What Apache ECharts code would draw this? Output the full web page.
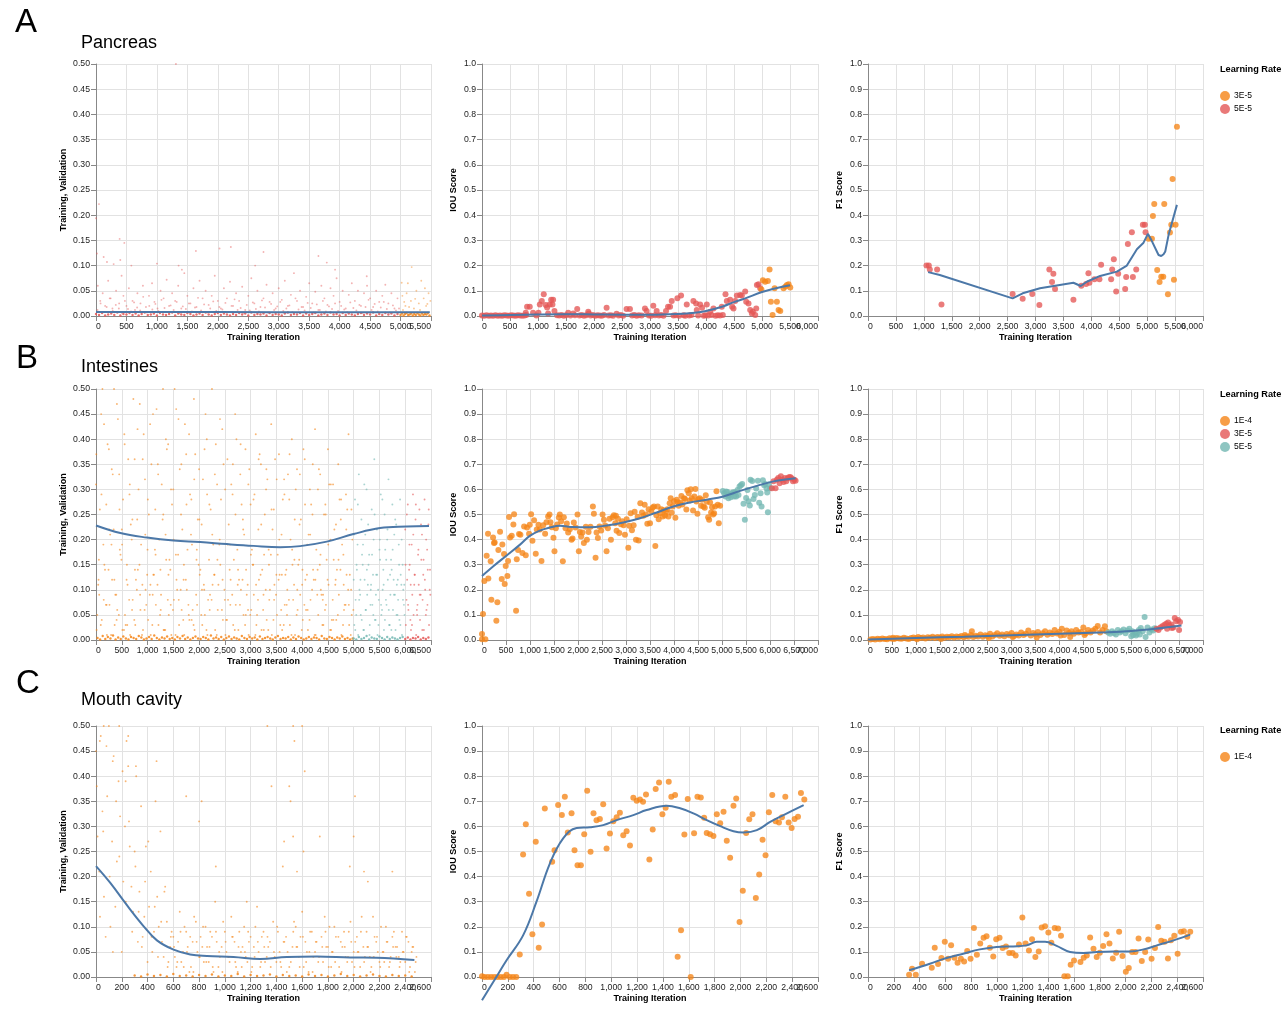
<!DOCTYPE html>
<html><head><meta charset="utf-8">
<script src="https://cdn.jsdelivr.net/npm/echarts@6/dist/echarts.min.js"></script>
<style>html,body{margin:0;padding:0;background:#fff}#c{width:1285px;height:1009px}</style>
</head><body><div id="c"></div>
<script>
// ---------------- axis / tick definitions (per panel, row-major) ----------------
const panelXMax   = [5500, 6000, 6000, 6500, 7000, 7000, 2600, 2600, 2600];
const panelXStep  = [500, 500, 500, 500, 500, 500, 200, 200, 200];
const panelYMax   = [0.5, 1, 1, 0.5, 1, 1, 0.5, 1, 1];
const panelYStep  = [0.05, 0.1, 0.1, 0.05, 0.1, 0.1, 0.05, 0.1, 0.1];
const panelYName  = ['Training, Validation', 'IOU Score', 'F1 Score', 'Training, Validation', 'IOU Score', 'F1 Score', 'Training, Validation', 'IOU Score', 'F1 Score'];
const xAxisName   = 'Training Iteration';
const rowLetters  = ['A', 'B', 'C'];
const rowTitles   = ['Pancreas', 'Intestines', 'Mouth cavity'];
const legendRates = [['3E-5', '5E-5'], ['1E-4', '3E-5', '5E-5'], ['1E-4']];

// ---------------- A: Pancreas ----------------
// loss, 5E-5: near-zero samples every 50 iterations from 0
const pancLossBand5e5 = [0.004,0.002,0.006,0.001,0.003,0.005,0.002,0.007,0.001,0.004,
 0.003,0.006,0.002,0.005,0.001,0.004,0.007,0.002,0.003,0.005,
 0.001,0.006,0.003,0.002,0.004,0.007,0.001,0.005,0.003,0.002,
 0.006,0.004,0.001,0.003,0.005,0.002,0.007,0.003,0.001,0.004,
 0.006,0.002,0.005,0.003,0.001,0.004,0.002,0.006,0.003,0.005,
 0.001,0.007,0.002,0.004,0.003,0.005,0.001,0.006,0.002,0.004,
 0.003,0.001,0.005,0.007,0.002,0.004,0.003,0.006,0.001,0.005,
 0.002,0.004,0.006,0.001,0.003,0.005,0.002,0.007,0.003,0.004,
 0.001,0.006,0.002,0.005,0.003,0.001,0.004,0.006,0.002,0.005,
 0.003,0.007,0.001,0.004,0.002,0.006,0.003,0.005,0.001,0.004];
// loss, 5E-5: low samples every 50 iterations from 25
const pancLossLow5e5 = [0.012,0.025,0.008,0.018,0.035,0.01,0.022,0.015,0.006,0.03,
 0.014,0.009,0.027,0.017,0.011,0.038,0.007,0.02,0.013,0.024,
 0.01,0.032,0.016,0.008,0.021,0.012,0.028,0.006,0.019,0.014,
 0.025,0.009,0.017,0.036,0.011,0.023,0.007,0.015,0.029,0.01,
 0.018,0.013,0.026,0.008,0.02,0.033,0.012,0.016,0.006,0.022,
 0.011,0.027,0.014,0.009,0.031,0.017,0.007,0.024,0.012,0.019,
 0.028,0.01,0.015,0.021,0.008,0.035,0.013,0.018,0.011,0.026,
 0.016,0.007,0.023,0.012,0.03,0.009,0.019,0.014,0.025,0.01,
 0.02,0.013,0.008,0.027,0.016,0.011,0.022,0.006,0.018,0.032,
 0.012,0.024,0.009,0.017,0.028,0.014,0.007,0.021,0.011,0.015];
const pancLossScatter5e5 = [[0,0.194],[16,0.124],[49,0.222],[126,0.117],[180,0.107],[290,0.103],[399,0.111],[388,0.153],[465,0.145],[580,0.1],[1000,0.104],[1356,0.1],[1410,0.092],[1312,0.5],[1640,0.129],[2028,0.134],[2214,0.137],[2613,0.1],[2750,0.127],[3652,0.119],[3789,0.106],[3925,0.092],[4445,0.079],
 [30,0.06],[70,0.03],[110,0.045],[150,0.02],[200,0.07],[240,0.035],[270,0.015],[330,0.05],[380,0.025],[420,0.08],[450,0.04],[500,0.02],[540,0.055],[600,0.03],[640,0.012],[680,0.045],[730,0.025],[770,0.06],[820,0.018],[870,0.04],[920,0.065],[960,0.028],[1010,0.015],[1060,0.05],[1110,0.035],[1160,0.072],[1200,0.02],[1250,0.045],[1300,0.03],[1350,0.06],[1400,0.015],[1450,0.085],[1500,0.04],[1550,0.025],[1600,0.055],[1650,0.018],[1700,0.07],[1750,0.035],[1800,0.05],[1850,0.022],[1900,0.04],[1950,0.08],[2000,0.03],[2050,0.015],[2100,0.055],[2150,0.035],[2200,0.068],[2250,0.02],[2300,0.045],[2350,0.03],[2400,0.058],[2450,0.012],[2500,0.04],[2550,0.075],[2600,0.025],[2650,0.05],[2700,0.018],[2750,0.035],[2800,0.062],[2850,0.028],[2900,0.045],[2950,0.015],[3000,0.055],[3050,0.032],[3100,0.07],[3150,0.02],[3200,0.042],[3250,0.085],[3300,0.03],[3350,0.05],[3400,0.018],[3450,0.038],[3500,0.065],[3550,0.025],[3600,0.048],[3650,0.012],[3700,0.06],[3750,0.035],[3800,0.022],[3850,0.055],[3900,0.04],[3950,0.075],[4000,0.028],[4050,0.05],[4100,0.015],[4150,0.042],[4200,0.065],[4250,0.03],[4300,0.05],[4350,0.02],[4400,0.045],[4450,0.06],[4500,0.035],[4550,0.018],[4600,0.05],[4650,0.028],[4700,0.04],[4750,0.062],[4800,0.025],[4850,0.045],[4900,0.015],[4950,0.035]];
// loss, 3E-5: near-zero samples every 25 iterations from 5000
const pancLossBand3e5 = [0.002,0.005,0.001,0.004,0.006,0.002,0.003,0.005,0.001,0.004,0.002,0.006,0.003,0.001,0.005,0.002,0.004,0.003,0.006,0.001];
const pancLossScatter3e5 = [[5183,0.097],[5019,0.066],[5030,0.04],[5080,0.02],[5120,0.065],[5170,0.03],[5220,0.015],[5260,0.05],[5300,0.025],[5340,0.07],[5380,0.035],[5420,0.02],[5460,0.045],[5490,0.03],[5040,0.012],[5400,0.055],[5060,0.028],[5140,0.018],[5240,0.034],[5320,0.012],[5440,0.024],[5100,0.045]];
const pancLossFit = [[0,0.008],[1000,0.0078],[2000,0.0077],[3000,0.0076],[4000,0.0075],[5000,0.0074],[5480,0.0074]];

const pancIou5e5 = [[0,0.002],[40,0.001],[80,0.003],[120,0.001],[160,0.002],[200,0.001],[240,0.003],[280,0.001],[320,0.002],[360,0.001],[400,0.003],[440,0.002],[480,0.001],[520,0.003],[560,0.002],[600,0.001],[640,0.003],[680,0.002],[720,0.001],[760,0.002],[790,0.004],
 [805,0.037],[853,0.037],[781,0.013],[912,0.013],[1008,0.013],[972,0.002],[1032,0.046],[1068,0.06],[1103,0.086],[1139,0.044],[1163,0.034],[1181,0.01],[1211,0.046],[1235,0.064],[1258,0.046],[1270,0.064],[1294,0.02],[1340,0.003],[1380,0.002],[1420,0.004],[1460,0.001],[1500,0.003],[1539,0.013],[1580,0.002],[1628,0.01],[1660,0.003],[1700,0.028],[1740,0.002],[1780,0.004],[1820,0.001],[1860,0.003],[1897,0.017],[1908,0.01],[1940,0.002],[1980,0.004],[2020,0.001],[2060,0.003],[2100,0.002],[2140,0.001],[2180,0.004],[2225,0.033],[2260,0.002],[2300,0.003],[2340,0.001],[2403,0.009],[2440,0.002],[2480,0.004],[2520,0.001],[2582,0.028],[2642,0.028],[2680,0.002],[2720,0.004],[2760,0.001],[2800,0.003],[2850,0.002],[2910,0.03],[2940,0.02],[2980,0.002],[3020,0.001],[3059,0.041],[3090,0.003],[3119,0.02],[3160,0.002],[3200,0.004],[3240,0.001],[3286,0.02],[3322,0.037],[3358,0.037],[3388,0.06],[3420,0.002],[3460,0.003],[3489,0.07],[3520,0.001],[3555,0.081],[3600,0.003],[3630,0.001],[3656,0.046],[3700,0.002],[3740,0.004],[3775,0.06],[3823,0.05],[3835,0.024],[3860,0.002],[3895,0.046],[3930,0.033],[3960,0.001],[3990,0.003],[4014,0.046],[4040,0.002],[4073,0.017],[4100,0.004],[4133,0.03],[4170,0.001],[4210,0.003],[4250,0.002],[4282,0.037],[4300,0.004],[4348,0.086],[4372,0.06],[4431,0.064],[4467,0.037],[4491,0.03],[4521,0.06],[4551,0.081],[4610,0.083],[4640,0.081],[4700,0.097],[4718,0.057],[4759,0.05],[4789,0.024],[4819,0.01],[4837,0.017],[4879,0.004],[4897,0.03],[4909,0.123],[4938,0.126],[4968,0.11]];
const pancIou3e5 = [[4990,0.105],[5016,0.142],[5057,0.136],[5105,0.139],[5135,0.185],[5159,0.057],[5189,0.004],[5225,0.11],[5266,0.057],[5296,0.024],[5326,0.02],[5385,0.11],[5421,0.117],[5445,0.123],[5475,0.126],[5505,0.113]];
const pancIouFit = [[0,0.002],[500,0.004],[1000,0.006],[1500,0.007],[2000,0.006],[2500,0.005],[3000,0.005],[3500,0.008],[3800,0.013],[4000,0.02],[4300,0.038],[4500,0.055],[4700,0.07],[5000,0.095],[5250,0.11],[5500,0.122]];

const pancF15e5 = [[1047,0.2],[1089,0.2],[1107,0.185],[1238,0.185],[1316,0.046],[2590,0.087],[2770,0.068],[2943,0.087],[3069,0.044],[3248,0.185],[3296,0.135],[3320,0.168],[3350,0.107],[3679,0.064],[3820,0.12],[3906,0.127],[3948,0.17],[3966,0.132],[4056,0.146],[4145,0.146],[4175,0.203],[4355,0.146],[4373,0.185],[4403,0.225],[4445,0.097],[4481,0.168],[4606,0.107],[4624,0.155],[4654,0.286],[4726,0.332],[4744,0.155],[4804,0.185],[4923,0.362],[4959,0.362],[4971,0.332]];
const pancF13e5 = [[5025,0.307],[5085,0.307],[5103,0.397],[5127,0.444],[5180,0.183],[5222,0.135],[5252,0.156],[5288,0.156],[5306,0.444],[5372,0.086],[5408,0.331],[5432,0.362],[5455,0.544],[5480,0.144],[5509,0.362],[5533,0.751]];
const pancF1Fit = [[1077,0.174],[1286,0.163],[2590,0.07],[2770,0.09],[3080,0.11],[3679,0.132],[3810,0.119],[3918,0.136],[4157,0.159],[4457,0.176],[4636,0.2],[4816,0.265],[4935,0.291],[5013,0.326],[5067,0.305],[5204,0.242],[5252,0.238],[5294,0.245],[5324,0.256],[5384,0.322],[5533,0.441]];

// ---------------- B: Intestines ----------------
// loss, 1E-4: samples every 50 iterations (interleaved runs + near-zero band)
const intLoss1e4A = [0.31,0.12,0.45,0.08,0.27,0.38,0.19,0.50,0.04,0.33,
 0.22,0.41,0.15,0.29,0.06,0.36,0.24,0.47,0.11,0.32,
 0.18,0.43,0.09,0.26,0.35,0.14,0.50,0.21,0.39,0.07,
 0.30,0.17,0.44,0.25,0.12,0.37,0.05,0.28,0.48,0.16,
 0.34,0.23,0.10,0.40,0.27,0.50,0.13,0.31,0.20,0.42,
 0.08,0.36,0.19,0.29,0.45,0.11,0.33,0.24,0.38,0.06,
 0.27,0.15,0.41,0.22,0.35,0.09,0.30,0.18,0.43,0.26,
 0.13,0.37,0.21,0.32,0.07,0.28,0.40,0.16,0.34,0.23,
 0.11,0.36,0.19,0.30,0.25,0.42,0.14,0.33,0.08,0.27,
 0.38,0.20,0.31,0.12,0.35,0.24,0.17,0.29,0.41,0.10];
const intLoss1e4B = [0.05,0.26,0.50,0.14,0.39,0.21,0.33,0.09,0.44,0.17,
 0.28,0.03,0.36,0.23,0.48,0.12,0.30,0.19,0.41,0.07,
 0.25,0.35,0.13,0.46,0.20,0.31,0.02,0.38,0.16,0.27,
 0.50,0.10,0.34,0.22,0.43,0.18,0.29,0.06,0.37,0.24,
 0.14,0.32,0.45,0.08,0.26,0.19,0.39,0.11,0.28,0.35,
 0.04,0.23,0.31,0.16,0.40,0.12,0.27,0.21,0.09,0.34,
 0.18,0.29,0.05,0.37,0.14,0.25,0.32,0.10,0.22,0.36,
 0.17,0.03,0.28,0.13,0.33,0.20,0.08,0.30,0.15,0.24,
 0.38,0.06,0.21,0.27,0.12,0.18,0.34,0.09,0.25,0.16,
 0.31,0.04,0.22,0.14,0.28,0.19,0.07,0.26,0.13,0.20];
const intLoss1e4C = [0.02,0.09,0.04,0.15,0.01,0.07,0.12,0.03,0.06,0.18,
 0.02,0.05,0.11,0.01,0.08,0.03,0.14,0.06,0.02,0.10,
 0.04,0.01,0.13,0.07,0.03,0.09,0.02,0.16,0.05,0.01,
 0.08,0.12,0.03,0.06,0.01,0.10,0.04,0.19,0.02,0.07,
 0.13,0.03,0.05,0.01,0.09,0.11,0.02,0.06,0.15,0.04,
 0.01,0.08,0.12,0.03,0.07,0.02,0.10,0.05,0.14,0.01,
 0.06,0.09,0.03,0.12,0.02,0.17,0.04,0.08,0.01,0.11,
 0.05,0.13,0.02,0.07,0.10,0.03,0.15,0.01,0.06,0.09,
 0.04,0.12,0.02,0.08,0.14,0.01,0.05,0.10,0.03,0.07,
 0.11,0.02,0.16,0.04,0.09,0.01,0.06,0.13,0.03,0.05];
const intLoss1e4D = [0.37,0.16,0.29,0.43,0.07,0.22,0.34,0.12,0.47,0.26,
 0.19,0.39,0.03,0.31,0.24,0.14,0.42,0.09,0.36,0.21,
 0.28,0.11,0.45,0.17,0.33,0.06,0.25,0.40,0.13,0.30,
 0.20,0.46,0.08,0.35,0.15,0.27,0.41,0.04,0.32,0.18,
 0.24,0.10,0.38,0.29,0.06,0.21,0.33,0.16,0.44,0.12,
 0.30,0.19,0.07,0.35,0.25,0.14,0.39,0.22,0.05,0.31,
 0.17,0.28,0.11,0.36,0.23,0.02,0.34,0.15,0.26,0.08,
 0.32,0.20,0.13,0.29,0.05,0.37,0.18,0.24,0.10,0.33,
 0.14,0.27,0.06,0.21,0.35,0.12,0.30,0.17,0.09,0.25,
 0.19,0.31,0.04,0.23,0.16,0.28,0.11,0.22,0.07,0.26];
const intLoss1e4E = [0.11,0.03,0.19,0.07,0.14,0.01,0.22,0.09,0.05,0.16,
 0.02,0.12,0.08,0.20,0.04,0.10,0.15,0.01,0.06,0.13,
 0.09,0.03,0.18,0.11,0.05,0.24,0.02,0.08,0.14,0.06,
 0.01,0.17,0.10,0.04,0.12,0.07,0.21,0.03,0.09,0.15,
 0.05,0.11,0.02,0.16,0.08,0.13,0.01,0.19,0.06,0.10,
 0.04,0.14,0.09,0.02,0.18,0.07,0.12,0.03,0.11,0.05,
 0.15,0.01,0.08,0.13,0.06,0.10,0.02,0.17,0.04,0.09,
 0.12,0.06,0.03,0.14,0.08,0.01,0.11,0.05,0.16,0.02,
 0.07,0.13,0.04,0.10,0.01,0.09,0.15,0.03,0.06,0.12,
 0.02,0.08,0.11,0.05,0.14,0.03,0.07,0.10,0.01,0.06];
const intLossBand1e4 = [0.004,0.001,0.008,0.002,0.006,0.003,0.009,0.001,0.005,0.002,
 0.007,0.003,0.001,0.006,0.004,0.002,0.008,0.005,0.001,0.003,
 0.006,0.002,0.009,0.004,0.001,0.005,0.003,0.007,0.002,0.004,
 0.001,0.006,0.003,0.008,0.002,0.005,0.001,0.004,0.007,0.003,
 0.002,0.006,0.004,0.001,0.009,0.003,0.005,0.002,0.006,0.001,
 0.004,0.007,0.002,0.005,0.003,0.001,0.008,0.004,0.002,0.006,
 0.003,0.005,0.001,0.007,0.002,0.004,0.006,0.003,0.001,0.005,
 0.008,0.002,0.004,0.003,0.006,0.001,0.005,0.002,0.007,0.004,
 0.001,0.003,0.006,0.002,0.005,0.004,0.001,0.008,0.003,0.002,
 0.006,0.004,0.001,0.005,0.003,0.007,0.002,0.004,0.001,0.003];
// loss, 5E-5: every 25 iterations from 5000
const intLoss5e5A = [0.12,0.28,0.05,0.19,0.33,0.09,0.24,0.15,0.02,0.21,
 0.30,0.11,0.17,0.07,0.26,0.13,0.36,0.04,0.22,0.10,
 0.18,0.29,0.06,0.14,0.25,0.08,0.20,0.32,0.03,0.16,
 0.27,0.12,0.09,0.23,0.05,0.19,0.28,0.11,0.15,0.07];
const intLoss5e5B = [0.03,0.08,0.14,0.01,0.10,0.05,0.17,0.02,0.12,0.06,
 0.09,0.15,0.03,0.11,0.07,0.20,0.04,0.13,0.01,0.08,
 0.16,0.05,0.10,0.02,0.18,0.07,0.12,0.03,0.09,0.14,
 0.06,0.21,0.02,0.11,0.08,0.04,0.13,0.01,0.10,0.05];
const intLoss5e5C = [0.21,0.02,0.15,0.27,0.08,0.12,0.04,0.19,0.31,0.06,
 0.14,0.23,0.01,0.10,0.17,0.05,0.25,0.09,0.13,0.03,
 0.20,0.07,0.28,0.11,0.04,0.16,0.22,0.06,0.13,0.02,
 0.18,0.09,0.24,0.05,0.12,0.15,0.03,0.20,0.08,0.11];
const intLossBand5e5 = [0.003,0.001,0.006,0.002,0.004,0.008,0.001,0.005,0.003,0.002,0.007,0.004,0.001,0.006,0.002,0.005,0.003,0.001,0.004,0.006];
// loss, 3E-5: every 25 iterations from 6000
const intLoss3e5A = [0.22,0.08,0.27,0.14,0.04,0.19,0.29,0.11,0.24,0.06,0.17,0.26,0.09,0.21,0.13,0.28,0.05,0.18,0.23,0.10];
const intLoss3e5B = [0.03,0.12,0.06,0.15,0.02,0.09,0.05,0.13,0.01,0.07,0.11,0.04,0.16,0.08,0.02,0.10,0.06,0.14,0.03,0.09];
const intLoss3e5C = [0.15,0.25,0.07,0.19,0.11,0.03,0.21,0.13,0.27,0.05,0.18,0.09,0.23,0.02,0.16,0.12,0.20,0.07,0.26,0.14];
const intLossBand3e5 = [0.002,0.005,0.001,0.004,0.003,0.006,0.001,0.004,0.002,0.005];
const intLossFit = [[0,0.228],[472,0.213],[988,0.204],[1505,0.198],[2022,0.195],[2539,0.191],[3056,0.1875],[3573,0.185],[3961,0.187],[4477,0.196],[4994,0.211],[5511,0.223],[6028,0.226],[6461,0.227]];

const intIou1e4 = [[0,0.003],[0,0.024],[70,0.003],[21,0.104],[49,0.235],[97,0.336],[132,0.245],[125,0.423],[181,0.314],[195,0.16],[230,0.408],[250,0.386],[264,0.388],[299,0.077],[320,0.15],[341,0.359],[376,0.431],[411,0.243],[424,0.38],[459,0.343],[473,0.223],[494,0.295],[529,0.255],[543,0.315],[564,0.49],[584,0.408],[619,0.415],[654,0.46],[668,0.501],[710,0.117],[724,0.322],[751,0.359],[772,0.422],[800,0.419],[842,0.347],[877,0.452],[911,0.338],[939,0.448],[981,0.423],[995,0.459],[1023,0.501],[1051,0.395],[1085,0.477],[1120,0.344],[1141,0.44],[1176,0.459],[1204,0.44],[1239,0.315],[1273,0.457],[1315,0.423],[1343,0.469],[1378,0.492],[1406,0.5],[1426,0.469],[1454,0.449],[1489,0.407],[1510,0.354],[1538,0.445],[1566,0.46],[1600,0.488],[1621,0.5],[1649,0.473],[1684,0.314],[1705,0.489],[1740,0.445],[1767,0.464],[1795,0.428],[1830,0.441],[1865,0.399],[1886,0.404],[1913,0.468],[1948,0.448],[1990,0.5],[2018,0.354],[2039,0.43],[2067,0.412],[2094,0.428],[2122,0.386],[2164,0.451],[2185,0.399],[2220,0.43],[2261,0.451],[2310,0.532],[2331,0.503],[2366,0.328],[2387,0.428],[2414,0.406],[2449,0.452],[2484,0.436],[2512,0.5],[2540,0.479],[2567,0.456],[2595,0.354],[2623,0.445],[2658,0.483],[2686,0.399],[2721,0.489],[2748,0.497],[2776,0.465],[2790,0.495],[2804,0.435],[2832,0.483],[2860,0.426],[2894,0.461],[2922,0.473],[2950,0.457],[2978,0.419],[3013,0.481],[3048,0.368],[3068,0.455],[3096,0.505],[3124,0.437],[3159,0.457],[3180,0.511],[3208,0.399],[3242,0.491],[3263,0.396],[3298,0.545],[3333,0.508],[3361,0.495],[3389,0.539],[3416,0.5],[3444,0.463],[3472,0.521],[3500,0.465],[3528,0.512],[3556,0.528],[3583,0.532],[3611,0.375],[3632,0.497],[3660,0.532],[3681,0.481],[3709,0.505],[3736,0.521],[3764,0.492],[3785,0.517],[3813,0.496],[3834,0.511],[3862,0.521],[3883,0.492],[3910,0.545],[3931,0.565],[3952,0.507],[3973,0.532],[4001,0.553],[4029,0.487],[4056,0.559],[4077,0.549],[4098,0.535],[4126,0.548],[4154,0.574],[4175,0.54],[4209,0.565],[4231,0.562],[4258,0.52],[4279,0.597],[4307,0.585],[4328,0.556],[4349,0.601],[4370,0.565],[4397,0.516],[4425,0.572],[4446,0.602],[4467,0.552],[4488,0.503],[4509,0.561],[4537,0.565],[4564,0.535],[4585,0.559],[4613,0.532],[4641,0.527],[4662,0.577],[4683,0.551],[4711,0.489],[4732,0.479],[4752,0.548],[4773,0.508],[4794,0.529],[4815,0.5],[4836,0.505],[4857,0.532],[4885,0.593],[4912,0.539],[4933,0.465],[4961,0.535]];
const intIou5e5 = [[5017,0.594],[5045,0.585],[5073,0.572],[5086,0.592],[5114,0.59],[5135,0.565],[5156,0.578],[5184,0.569],[5204,0.585],[5232,0.589],[5253,0.572],[5274,0.589],[5295,0.572],[5323,0.598],[5344,0.578],[5365,0.612],[5393,0.617],[5420,0.622],[5448,0.543],[5476,0.479],[5503,0.566],[5531,0.598],[5552,0.553],[5580,0.536],[5594,0.638],[5629,0.633],[5657,0.562],[5684,0.578],[5712,0.604],[5747,0.634],[5775,0.547],[5803,0.585],[5824,0.532],[5852,0.636],[5879,0.617],[5900,0.622],[5928,0.604],[5942,0.588],[5956,0.509],[5977,0.62],[6005,0.605]];
const intIou3e5 = [[6040,0.605],[6074,0.632],[6116,0.605],[6144,0.638],[6172,0.645],[6199,0.625],[6227,0.652],[6255,0.638],[6283,0.629],[6311,0.645],[6339,0.632],[6367,0.644],[6394,0.648],[6422,0.649],[6450,0.644],[6478,0.632],[6506,0.638],[6533,0.634]];
const intIouFit = [[0,0.255],[230,0.293],[508,0.336],[786,0.379],[995,0.415],[1204,0.436],[1412,0.448],[1621,0.455],[1900,0.45],[2247,0.449],[2595,0.456],[2943,0.468],[3291,0.485],[3639,0.508],[3987,0.532],[4335,0.548],[4683,0.559],[5030,0.572],[5378,0.594],[5726,0.614],[6074,0.632],[6533,0.644]];

const intF11e4 = [[50,0.002],[100,0.004],[150,0.002],[200,0.005],[250,0.003],[300,0.006],[350,0.004],[400,0.003],[450,0.007],[500,0.005],[550,0.004],[600,0.008],[650,0.006],[700,0.005],[750,0.009],[800,0.006],[850,0.004],[900,0.008],[950,0.01],[1000,0.007],[1050,0.012],[1100,0.008],[1150,0.01],[1200,0.006],[1250,0.011],[1300,0.009],[1350,0.013],[1400,0.008],[1450,0.012],[1500,0.01],[1550,0.014],[1600,0.009],[1650,0.013],[1700,0.011],[1750,0.015],[1800,0.01],[1850,0.014],[1900,0.012],[1950,0.016],[2000,0.011],[2050,0.015],[2100,0.013],[2150,0.02],[2170,0.035],[2200,0.012],[2250,0.017],[2300,0.014],[2350,0.022],[2400,0.013],[2450,0.019],[2500,0.016],[2550,0.025],[2600,0.014],[2650,0.02],[2700,0.027],[2750,0.017],[2800,0.022],[2850,0.015],[2900,0.024],[2950,0.019],[3000,0.028],[3050,0.016],[3100,0.022],[3150,0.018],[3200,0.03],[3250,0.02],[3300,0.025],[3350,0.038],[3400,0.018],[3450,0.028],[3500,0.022],[3550,0.032],[3600,0.02],[3650,0.027],[3700,0.035],[3750,0.021],[3800,0.03],[3850,0.024],[3900,0.04],[3950,0.026],[4000,0.033],[4050,0.045],[4100,0.02],[4150,0.038],[4200,0.028],[4250,0.035],[4300,0.025],[4350,0.04],[4400,0.03],[4450,0.032],[4500,0.05],[4550,0.027],[4600,0.04],[4650,0.03],[4700,0.038],[4750,0.045],[4800,0.056],[4850,0.03],[4900,0.04],[4950,0.055],[4980,0.035],[525,0.009],[1025,0.003],[1525,0.004],[2025,0.02],[2525,0.008],[3025,0.012],[3525,0.01],[4025,0.018],[4525,0.02],[4225,0.012]];
const intF15e5 = [[5020,0.03],[5060,0.025],[5100,0.035],[5140,0.028],[5180,0.022],[5220,0.04],[5260,0.03],[5300,0.035],[5340,0.042],[5380,0.027],[5420,0.038],[5460,0.045],[5500,0.015],[5520,0.035],[5540,0.02],[5580,0.03],[5600,0.018],[5620,0.025],[5660,0.04],[5680,0.022],[5700,0.048],[5740,0.035],[5780,0.092],[5800,0.012],[5840,0.05],[5880,0.03],[5920,0.042],[5960,0.038],[5990,0.047]];
const intF13e5 = [[6030,0.045],[6070,0.04],[6110,0.05],[6150,0.055],[6190,0.06],[6230,0.065],[6250,0.045],[6270,0.07],[6300,0.058],[6340,0.062],[6350,0.048],[6380,0.05],[6410,0.088],[6440,0.075],[6480,0.08],[6500,0.04],[6520,0.072]];
const intF1Fit = [[0,0.002],[1000,0.008],[2000,0.013],[3000,0.019],[4000,0.025],[5000,0.031],[5500,0.036],[6000,0.045],[6550,0.058]];

// ---------------- C: Mouth cavity ----------------
// loss, 1E-4: samples every 25 iterations (interleaved runs), band every 50 from 300
const mouthLossA = [0.45,0.21,0.33,0.08,0.50,0.27,0.14,0.39,0.05,0.30,0.42,0.18,
 0.25,0.07,0.34,0.12,0.03,0.21,0.09,0.16,0.29,0.04,0.11,0.06,
 0.08,0.02,0.13,0.05,0.09,0.01,0.07,0.11,0.04,0.06,
 0.10,0.03,0.08,0.15,0.02,0.06,0.09,0.04,0.12,0.07,
 0.01,0.05,0.10,0.03,0.08,0.06,0.14,0.02,0.09,0.04,
 0.07,0.11,0.03,0.05,0.22,0.08,0.02,0.06,0.10,0.04,
 0.13,0.07,0.01,0.09,0.05,0.03,0.08,0.12,0.06,0.02,
 0.10,0.04,0.07,0.09,0.03,0.11,0.05,0.08,0.02,0.06,
 0.09,0.04,0.12,0.07,0.03,0.05,0.10,0.02,0.08,0.06,
 0.04,0.09,0.03,0.07,0.05,0.01];
const mouthLossB = [0.28,0.48,0.16,0.36,0.10,0.44,0.23,0.32,0.19,0.47,0.26,0.13,
 0.40,0.17,0.08,0.26,0.14,0.05,0.35,0.10,0.07,0.18,0.03,0.09,
 0.04,0.07,0.03,0.10,0.06,0.02,0.12,0.05,0.08,0.03,
 0.06,0.09,0.01,0.07,0.04,0.11,0.05,0.03,0.08,0.02,
 0.09,0.06,0.04,0.07,0.02,0.10,0.05,0.08,0.03,0.06,
 0.38,0.04,0.09,0.02,0.07,0.05,0.03,0.11,0.06,0.08,
 0.02,0.05,0.09,0.04,0.07,0.28,0.03,0.06,0.10,0.05,
 0.08,0.02,0.06,0.04,0.09,0.03,0.07,0.05,0.12,0.04,
 0.06,0.02,0.08,0.05,0.10,0.03,0.07,0.04,0.09,0.06,
 0.03,0.05,0.08,0.02,0.06,0.04];
const mouthLossC = [0.38,0.12,0.29,0.46,0.20,0.05,0.35,0.24,0.41,0.15,0.31,0.09,
 0.22,0.13,0.06,0.19,0.27,0.08,0.14,0.04,0.11,0.17,0.02,0.08,
 0.06,0.03,0.09,0.02,0.05,0.08,0.01,0.07,0.04,0.10,
 0.03,0.06,0.02,0.09,0.05,0.01,0.07,0.04,0.08,0.03,
 0.06,0.02,0.05,0.09,0.01,0.04,0.07,0.03,0.06,0.08,
 0.02,0.05,0.10,0.03,0.07,0.01,0.04,0.09,0.06,0.02,
 0.08,0.03,0.05,0.01,0.07,0.04,0.06,0.09,0.02,0.05,
 0.03,0.08,0.01,0.06,0.04,0.07,0.02,0.05,0.09,0.03,
 0.06,0.01,0.04,0.08,0.02,0.05,0.07,0.03,0.06,0.04,
 0.02,0.05,0.08,0.01,0.06,0.03];
const mouthLossOutliers = [[1330,0.5],[1530,0.5],[1600,0.5],[1540,0.47],[1500,0.38],[1510,0.35],[1620,0.41],[1610,0.25],[1530,0.28],[2000,0.28],[2010,0.36],[700,0.36],[820,0.35],[930,0.22],[1170,0.15],[1460,0.27],[1560,0.21],[1970,0.22],[2080,0.21],[2300,0.21],[2110,0.19],[800,0.31],[470,0.43],[180,0.5],[130,0.43],[60,0.5],[30,0.47],[250,0.48],[310,0.42],[230,0.39]];
const mouthLossBand = [0.003,0.001,0.005,0.002,0.004,0.001,0.006,0.002,0.003,0.001,
 0.004,0.002,0.005,0.001,0.003,0.002,0.006,0.001,0.004,0.002,
 0.003,0.005,0.001,0.004,0.002,0.003,0.001,0.005,0.002,0.004,
 0.001,0.003,0.006,0.002,0.004,0.001,0.003,0.005,0.002,0.001,
 0.004,0.002,0.003,0.001];
const mouthLossFit = [[0,0.221],[111,0.1875],[240,0.143],[370,0.101],[473,0.073],[602,0.0545],[731,0.045],[861,0.042],[1067,0.04],[1274,0.036],[1481,0.04],[1714,0.041],[1972,0.039],[2179,0.0385],[2471,0.034]];

const mouthIou = [[0,0.003],[20,0],[45,0],[70,0],[95,0],[120,0],[145,0],[170,0],[190,0.009],[215,0],[240,0],[265,0],
 [292,0.09],[318,0.488],[339,0.609],[364,0.332],[390,0.17],[416,0.539],[439,0.117],[465,0.209],[486,0.671],[543,0.459],[561,0.505],[589,0.685],[618,0.645],[641,0.718],[664,0.576],[693,0.652],[716,0.505],[739,0.445],[765,0.445],[791,0.569],[814,0.742],[840,0.499],[863,0.652],[886,0.625],[912,0.629],[938,0.688],[964,0.512],[990,0.572],[1016,0.621],[1042,0.636],[1067,0.654],[1093,0.565],[1119,0.581],[1145,0.524],[1171,0.714],[1197,0.702],[1222,0.707],[1246,0.698],[1269,0.727],[1295,0.468],[1321,0.588],[1344,0.749],[1370,0.775],[1396,0.648],[1421,0.674],[1445,0.778],[1465,0.718],[1494,0.725],[1514,0.081],[1540,0.186],[1566,0.568],[1592,0.709],[1615,0],[1641,0.573],[1667,0.718],[1693,0.715],[1719,0.634],[1739,0.574],[1765,0.569],[1791,0.562],[1817,0.648],[1843,0.613],[1869,0.658],[1894,0.543],[1920,0.475],[1946,0.682],[1967,0.711],[1993,0.219],[2018,0.344],[2044,0.574],[2068,0.628],[2093,0.648],[2119,0.315],[2145,0.408],[2171,0.547],[2194,0.485],[2220,0.656],[2246,0.725],[2272,0.621],[2298,0.616],[2321,0.636],[2347,0.718],[2373,0.616],[2396,0.594],[2419,0.629],[2445,0.638],[2468,0.733],[2494,0.707]];
const mouthIouFit = [[0,-0.093],[111,0],[189,0.066],[318,0.166],[421,0.299],[525,0.452],[628,0.552],[732,0.594],[835,0.597],[938,0.605],[1042,0.625],[1171,0.645],[1274,0.665],[1429,0.682],[1533,0.672],[1636,0.652],[1739,0.625],[1843,0.601],[1946,0.581],[2024,0.576],[2127,0.585],[2230,0.618],[2360,0.652],[2489,0.685]];

const mouthF1 = [[319,0.009],[342,0.033],[371,0.009],[420,0.053],[495,0.037],[518,0.117],[544,0.052],[570,0.076],[596,0.14],[622,0.073],[645,0.126],[671,0.077],[695,0.057],[721,0.073],[746,0.062],[770,0.104],[796,0.073],[822,0.195],[845,0.089],[871,0.133],[897,0.156],[920,0.162],[946,0.117],[972,0.082],[995,0.15],[1021,0.156],[1045,0.116],[1071,0.122],[1096,0.096],[1122,0.096],[1146,0.086],[1172,0.129],[1198,0.237],[1223,0.133],[1249,0.106],[1273,0.15],[1299,0.08],[1325,0.102],[1348,0.197],[1374,0.202],[1400,0.177],[1423,0.136],[1449,0.195],[1475,0.193],[1498,0.164],[1524,0.003],[1550,0.003],[1573,0.049],[1599,0.066],[1649,0.06],[1674,0.077],[1698,0.086],[1724,0.157],[1750,0.113],[1775,0.08],[1799,0.097],[1825,0.124],[1851,0.17],[1874,0.133],[1900,0.074],[1926,0.097],[1949,0.18],[1975,0.084],[2001,0.021],[2024,0.036],[2050,0.1],[2076,0.1],[2100,0.153],[2125,0.064],[2151,0.1],[2175,0.149],[2201,0.073],[2227,0.116],[2252,0.199],[2276,0.144],[2302,0.14],[2328,0.074],[2351,0.146],[2377,0.164],[2403,0.093],[2429,0.18],[2452,0.182],[2478,0.16],[2501,0.18]];
const mouthF1Fit = [[319,0.027],[480,0.053],[609,0.076],[739,0.093],[868,0.11],[998,0.12],[1128,0.122],[1231,0.126],[1309,0.14],[1374,0.14],[1464,0.124],[1568,0.1],[1672,0.096],[1775,0.1],[1905,0.102],[2035,0.102],[2138,0.11],[2242,0.126],[2372,0.146],[2501,0.169]];

// ---------------- rendering ----------------
const FONT = 'Liberation Sans, Arial, Helvetica, sans-serif';
const OR = '#f58518', RD = '#e45756', TL = '#72b7b2', BL = '#4c78a8';
const rateColor = [{'3E-5': OR, '5E-5': RD}, {'1E-4': OR, '3E-5': RD, '5E-5': TL}, {'1E-4': OR}];

// x positions of regularly sampled loss values
function sampled(start, step, ys) { return ys.map((y, i) => [start + i * step, y]); }
const fmtIter = v => Math.round(v).toLocaleString('en-US');

const colLeft = [96, 482, 868], colWidth = [335, 336, 335];
const rowTop = [64, 389, 726], rowHeight = [252, 251, 251];
const yNameGap = [28, 24, 24];

const grid = [], xAxis = [], yAxis = [];
const labelBase = {fontFamily: FONT, fontSize: 8.7, color: '#222', margin: 6};
for (let p = 0; p < 9; p++) {
  const r = Math.floor(p / 3), c = p % 3;
  grid.push({left: colLeft[c], top: rowTop[r], width: colWidth[c], height: rowHeight[r], containLabel: false, outerBoundsMode: 'none'});
  const axisCommon = {
    gridIndex: p, type: 'value',
    axisLine: {show: true, onZero: false, lineStyle: {color: '#888', width: 1}},
    axisTick: {show: true, length: 5, lineStyle: {color: '#888', width: 1}},
    splitLine: {show: true, lineStyle: {color: '#e2e2e2', width: 1}},
    nameLocation: 'middle',
    nameTextStyle: {fontFamily: FONT, fontSize: 9, fontWeight: 'bold', color: '#000'}
  };
  // main x axis: all labels except the last one
  xAxis.push(Object.assign({}, axisCommon, {
    min: 0, max: panelXMax[p], interval: panelXStep[p],
    name: xAxisName, nameGap: 17,
    axisLabel: Object.assign({}, labelBase, {showMinLabel: true, showMaxLabel: false, alignMinLabel: 'left', hideOverlap: false, formatter: fmtIter})
  }));
  const dec = panelYMax[p] === 0.5 ? 2 : 1;
  yAxis.push(Object.assign({}, axisCommon, {
    min: 0, max: panelYMax[p], interval: panelYStep[p],
    name: panelYName[p], nameGap: yNameGap[c], nameRotate: 90,
    axisLabel: Object.assign({}, labelBase, {showMinLabel: true, showMaxLabel: true, formatter: v => v.toFixed(dec)})
  }));
}
// overlay x axes: only the last (flush-right) label, so it may overlap its neighbour as in the original
for (let p = 0; p < 9; p++) {
  const mx = panelXMax[p];
  xAxis.push({
    gridIndex: p, type: 'value', position: 'bottom', min: 0, max: mx, interval: panelXStep[p],
    axisLine: {show: false}, splitLine: {show: false},
    axisTick: {show: true, length: 5, lineStyle: {color: '#888', width: 1}},
    axisLabel: Object.assign({}, labelBase, {showMinLabel: true, showMaxLabel: true, alignMaxLabel: 'right', hideOverlap: false,
      formatter: v => (Math.abs(v - mx) < 1e-6 ? fmtIter(v) : '')})
  });
}

function sc(name, p, data, color, size, opacity) {
  return {type: 'scatter', name, xAxisIndex: p, yAxisIndex: p, data, symbol: 'circle', symbolSize: size,
    itemStyle: {color, opacity}, silent: true, z: 2, animation: false};
}
function fit(p, data, smooth) {
  return {type: 'line', name: 'fit', xAxisIndex: p, yAxisIndex: p, data, smooth, showSymbol: false, symbol: 'none',
    clip: false, lineStyle: {color: BL, width: 2}, silent: true, z: 5, animation: false};
}
const LS = 1.9, LO = 0.6, BS = 2.4, BO = 0.85, PS = 6, PO = 0.78;
const series = [
  // A
  sc('5E-5', 0, sampled(0, 50, pancLossBand5e5), RD, BS, BO),
  sc('5E-5', 0, sampled(25, 50, pancLossLow5e5), RD, LS, 0.45),
  sc('5E-5', 0, pancLossScatter5e5, RD, LS, 0.45),
  sc('3E-5', 0, sampled(5000, 25, pancLossBand3e5), OR, BS, BO),
  sc('3E-5', 0, pancLossScatter3e5, OR, LS, 0.45),
  fit(0, pancLossFit, false),
  sc('5E-5', 1, pancIou5e5, RD, PS, PO),
  sc('3E-5', 1, pancIou3e5, OR, PS, PO),
  fit(1, pancIouFit, 0.4),
  sc('5E-5', 2, pancF15e5, RD, PS, PO),
  sc('3E-5', 2, pancF13e5, OR, PS, PO),
  fit(2, pancF1Fit, false),
  // B
  sc('1E-4', 3, sampled(0, 50, intLoss1e4A), OR, LS, LO),
  sc('1E-4', 3, sampled(25, 50, intLoss1e4B), OR, LS, LO),
  sc('1E-4', 3, sampled(12, 50, intLoss1e4C), OR, LS, LO),
  sc('1E-4', 3, sampled(6, 50, intLoss1e4D), OR, LS, LO),
  sc('1E-4', 3, sampled(43, 50, intLoss1e4E), OR, LS, LO),
  sc('1E-4', 3, sampled(30, 50, intLossBand1e4), OR, BS, BO),
  sc('5E-5', 3, sampled(5000, 25, intLoss5e5A), TL, LS, LO),
  sc('5E-5', 3, sampled(5012, 25, intLoss5e5B), TL, LS, LO),
  sc('5E-5', 3, sampled(5006, 25, intLoss5e5C), TL, LS, LO),
  sc('5E-5', 3, sampled(5000, 50, intLossBand5e5), TL, BS, BO),
  sc('3E-5', 3, sampled(6000, 25, intLoss3e5A), RD, LS, LO),
  sc('3E-5', 3, sampled(6012, 25, intLoss3e5B), RD, LS, LO),
  sc('3E-5', 3, sampled(6006, 25, intLoss3e5C), RD, LS, LO),
  sc('3E-5', 3, sampled(6000, 50, intLossBand3e5), RD, BS, BO),
  fit(3, intLossFit, 0.4),
  sc('1E-4', 4, intIou1e4, OR, PS, PO),
  sc('5E-5', 4, intIou5e5, TL, PS, PO),
  sc('3E-5', 4, intIou3e5, RD, PS, PO),
  fit(4, intIouFit, 0.4),
  sc('1E-4', 5, intF11e4, OR, PS, PO),
  sc('5E-5', 5, intF15e5, TL, PS, PO),
  sc('3E-5', 5, intF13e5, RD, PS, PO),
  fit(5, intF1Fit, 0.4),
  // C
  sc('1E-4', 6, sampled(0, 25, mouthLossA), OR, LS, LO),
  sc('1E-4', 6, sampled(12, 25, mouthLossB), OR, LS, LO),
  sc('1E-4', 6, sampled(6, 25, mouthLossC), OR, LS, LO),
  sc('1E-4', 6, mouthLossOutliers, OR, LS, LO),
  sc('1E-4', 6, sampled(300, 50, mouthLossBand), OR, BS, BO),
  fit(6, mouthLossFit, 0.4),
  sc('1E-4', 7, mouthIou, OR, PS, PO),
  fit(7, mouthIouFit, 0.4),
  sc('1E-4', 8, mouthF1, OR, PS, PO),
  fit(8, mouthF1Fit, 0.4)
];

const titleStyleBig = {fontFamily: FONT, fontSize: 33, fontWeight: 'normal', color: '#000'};
const titleStyleMid = {fontFamily: FONT, fontSize: 18, fontWeight: 'normal', color: '#000'};
const titleStyleLeg = {fontFamily: FONT, fontSize: 9.2, fontWeight: 'bold', color: '#000'};
const letterTop = [6, 342, 667], letterLeft = [15, 16, 16];
const nameTop = [34, 358, 691];
const legTitleTop = [64.5, 389.5, 725.8];
const legTop = [91, 416, 752];

const title = [];
const legend = [];
for (let r = 0; r < 3; r++) {
  title.push({text: rowLetters[r], left: letterLeft[r], top: letterTop[r], padding: 0, textStyle: titleStyleBig});
  title.push({text: rowTitles[r], left: 81, top: nameTop[r], padding: 0, textStyle: titleStyleMid});
  title.push({text: 'Learning Rate', left: 1220, top: legTitleTop[r], padding: 0, textStyle: titleStyleLeg});
  legend.push({
    orient: 'vertical', left: 1220, top: legTop[r], padding: 0, itemGap: 3, itemWidth: 10, itemHeight: 10,
    selectedMode: false, icon: 'circle',
    textStyle: {fontFamily: FONT, fontSize: 8.5, color: '#000', padding: [0, 0, 0, -1]},
    data: legendRates[r].map(n => ({name: n, icon: 'circle', itemStyle: {color: rateColor[r][n], opacity: 0.8, borderWidth: 0}}))
  });
}

const chart = echarts.init(document.getElementById('c'), null, {renderer: 'canvas', width: 1285, height: 1009});
chart.setOption({backgroundColor: '#fff', animation: false, title, legend, grid, xAxis, yAxis, series});
</script></body></html>
